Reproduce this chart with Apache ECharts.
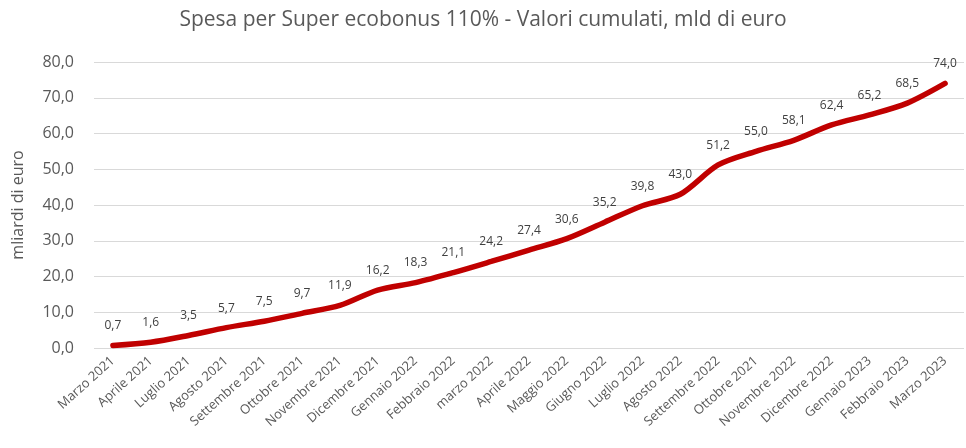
<!DOCTYPE html>
<html>
<head>
<meta charset="utf-8">
<script src="https://cdn.jsdelivr.net/npm/echarts@6/dist/echarts.min.js"></script>
<style>
  html, body { margin: 0; padding: 0; background: #fff; }
  #chart { width: 966px; height: 448px; }
</style>
</head>
<body>
<div id="chart"></div>
<script>
// mesi (come nell'originale, compreso "Ottobre 2021" ripetuto)
var mesi = ['Marzo 2021', 'Aprile 2021', 'Luglio 2021', 'Agosto 2021', 'Settembre 2021',
  'Ottobre 2021', 'Novembre 2021', 'Dicembre 2021', 'Gennaio 2022', 'Febbraio 2022',
  'marzo 2022', 'Aprile 2022', 'Maggio 2022', 'Giugno 2022', 'Luglio 2022', 'Agosto 2022',
  'Settembre 2022', 'Ottobre 2021', 'Novembre 2022', 'Dicembre 2022', 'Gennaio 2023',
  'Febbraio 2023', 'Marzo 2023'];
var spesa = [0.7, 1.6, 3.5, 5.7, 7.5, 9.7, 11.9, 16.2, 18.3, 21.1, 24.2, 27.4, 30.6,
  35.2, 39.8, 43.0, 51.2, 55.0, 58.1, 62.4, 65.2, 68.5, 74.0];

function virgola(v) {
  return Number(v).toFixed(1).replace('.', ',');
}

var font = "'Open Sans', 'Liberation Sans', sans-serif";
var chart = echarts.init(document.getElementById('chart'));
var option = {
  animation: false,
  textStyle: { fontFamily: font },
  title: {
    text: 'Spesa per Super ecobonus 110% - Valori cumulati, mld di euro',
    left: 'center',
    top: 5,
    textStyle: { color: '#595959', fontSize: 21, fontWeight: 'normal', fontFamily: font }
  },
  grid: { left: 94, right: 2, top: 62, bottom: 100 },
  xAxis: {
    type: 'category',
    data: mesi,
    boundaryGap: true,
    axisLine: { show: false },
    axisTick: { show: false },
    axisLabel: { rotate: 42, interval: 0, color: '#595959', fontSize: 13, margin: 11, fontFamily: font }
  },
  yAxis: {
    type: 'value',
    min: 0,
    max: 80,
    interval: 10,
    name: 'mliardi di euro',
    nameLocation: 'middle',
    nameGap: 68,
    nameTextStyle: { color: '#595959', fontSize: 16, fontFamily: font },
    axisLine: { show: false },
    axisTick: { show: false },
    axisLabel: { color: '#595959', fontSize: 16, margin: 20, formatter: virgola, fontFamily: font },
    splitLine: { lineStyle: { color: '#d9d9d9', width: 1 } }
  },
  series: [{
    type: 'line',
    data: spesa,
    smooth: 0.3,
    symbol: 'circle',
    symbolSize: 1,
    showSymbol: true,
    itemStyle: { color: '#c00000' },
    lineStyle: { color: '#c00000', width: 5.5, cap: 'round' },
    label: {
      show: true,
      position: 'top',
      distance: 13,
      color: '#404040',
      fontSize: 12,
      fontFamily: font,
      formatter: function (p) { return virgola(p.value); }
    }
  }]
};
chart.setOption(option);
</script>
</body>
</html>
